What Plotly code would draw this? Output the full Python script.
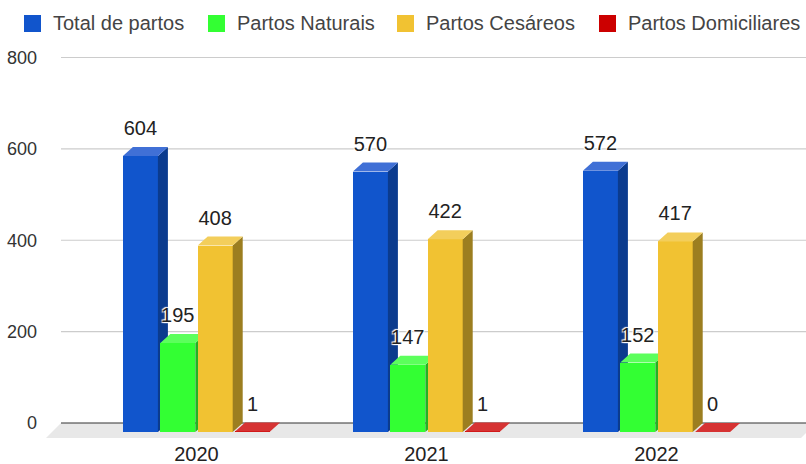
import plotly.graph_objects as go

years = ["2020", "2021", "2022"]
series_names = ["Total de partos", "Partos Naturais", "Partos Cesáreos", "Partos Domiciliares"]
total = [604, 570, 572]
naturais = [195, 147, 152]
cesareos = [408, 422, 417]
domiciliares = [1, 1, 0]
series_values = [total, naturais, cesareos, domiciliares]
y_ticks = [0, 200, 400, 600, 800]

front_colors = ["#1155cc", "#33ff33", "#f1c232", "#cc0000"]
top_colors = ["#4070d6", "#5cff5c", "#f3ce5b", "#d63333"]
side_colors = ["#0b3b8e", "#23b223", "#9c7e20", "#8e0000"]

W, H = 806, 464
PX_Y = 365.5 / 800
PX_X = 230.0
DX = 10 / PX_X
DY = 9 / PX_Y
BW = 35 / PX_X
STEP = 37.4 / PX_X
xs = [0, 1, 2]
XR = [(46 - 196.5) / PX_X, (806 - 196.5) / PX_X]
YR = [-17 / PX_Y, 800 + 12.5 / PX_Y]
legend_swatch_px = [24, 208, 397, 599]
legend_text_px = [52, 236, 425, 627]

fig = go.Figure()


def poly(points_list):
    px, py = [], []
    for pts in points_list:
        for a, b in pts:
            px.append(a)
            py.append(b)
        px.append(pts[0][0])
        py.append(pts[0][1])
        px.append(None)
        py.append(None)
    return px, py


for i, (name, vals) in enumerate(zip(series_names, series_values)):
    suffix = "" if i == 0 else str(i + 1)
    xa, ya = "x" + suffix, "y" + suffix
    centers = [c + (i - 1.5) * STEP for c in xs]
    tops, sides = [], []
    for c, v in zip(centers, vals):
        l, r = c - BW / 2, c + BW / 2
        f = v - DY
        tops.append([(l, f), (l + DX, v), (r + DX, v), (r, f)])
        sides.append([(r, -DY), (r + DX, 0), (r + DX, v), (r, f)])
    for pts, col in ((sides, side_colors[i]), (tops, top_colors[i])):
        px, py = poly(pts)
        fig.add_trace(go.Scatter(x=px, y=py, xaxis=xa, yaxis=ya, mode="lines", line=dict(width=0, color=col),
                                 fill="toself", fillcolor=col, showlegend=False, hoverinfo="skip"))
    fig.add_trace(go.Bar(x=centers, y=vals, base=[-DY] * 3, width=BW, xaxis=xa, yaxis=ya, name=name,
                         marker=dict(color=front_colors[i], line=dict(width=0)), showlegend=False))

# value labels above everything
lx, ly, lt = [], [], []
for i, vals in enumerate(series_values):
    for c, v in zip(xs, vals):
        lx.append(c + (i - 1.5) * STEP)
        ly.append(v + 7 / PX_Y)
        lt.append(str(v))
halo = "1px 1px 1px #fff, -1px -1px 1px #fff, 1px -1px 1px #fff, -1px 1px 1px #fff"
fig.add_trace(go.Scatter(x=lx, y=ly, text=lt, xaxis="x4", yaxis="y4", mode="text", textposition="top center",
                         textfont=dict(family="Liberation Sans", size=20, color="#222222", shadow=halo),
                         showlegend=False, hoverinfo="skip", cliponaxis=False))

shapes = [dict(type="path", xref="x", yref="y", layer="below", line=dict(width=0), fillcolor="#e8e8e8",
               path=f"M {(61-196.5)/PX_X} 0 L {(46-196.5)/PX_X} {-15/PX_Y} L {(801-196.5)/PX_X} {-15/PX_Y} L {(816-196.5)/PX_X} 0 Z")]
for t in y_ticks:
    shapes.append(dict(type="line", xref="x", yref="y", layer="below", x0=(61 - 196.5) / PX_X, x1=XR[1], y0=t, y1=t,
                       line=dict(color="#333333" if t == 0 else "#cccccc", width=1.2)))

annotations = []
for name, col, sx, tx in zip(series_names, front_colors, legend_swatch_px, legend_text_px):
    shapes.append(dict(type="rect", xref="paper", yref="paper", x0=(sx - 46) / 760, x1=(sx + 17 - 46) / 760,
                       y0=(440 - 32) / 395, y1=(440 - 15) / 395, fillcolor=col, line=dict(width=0)))
    annotations.append(dict(xref="paper", yref="paper", x=(tx - 46) / 760, y=(440 - 23.5) / 395, text=name,
                            showarrow=False, xanchor="left", yanchor="middle", xshift=0,
                            borderpad=0, font=dict(size=20, color="#444444")))

layout = dict(
    width=W, height=H, margin=dict(l=46, r=0, t=45, b=24), paper_bgcolor="white", plot_bgcolor="white",
    font=dict(family="Liberation Sans", color="#333333"), shapes=shapes, annotations=annotations, bargap=0,
    xaxis=dict(range=XR, tickmode="array", tickvals=xs, ticktext=years, showgrid=False, zeroline=False, automargin=False,
               showline=False, ticks="", ticklabelstandoff=0, tickfont=dict(size=20, color="#222222")),
    yaxis=dict(range=YR, tickmode="array", tickvals=y_ticks, showgrid=False, zeroline=False, showline=False, automargin=False,
               ticks="", ticklabelstandoff=8, tickfont=dict(size=18, color="#333333")),
    showlegend=False,
)
for i in range(2, 5):
    layout[f"xaxis{i}"] = dict(range=XR, overlaying="x", visible=False)
    layout[f"yaxis{i}"] = dict(range=YR, overlaying="y", visible=False)
fig.update_layout(**layout)
fig.write_html("out.html", config={"displayModeBar": False},
               post_script="document.body.style.margin='0';document.documentElement.style.overflow='hidden';")
